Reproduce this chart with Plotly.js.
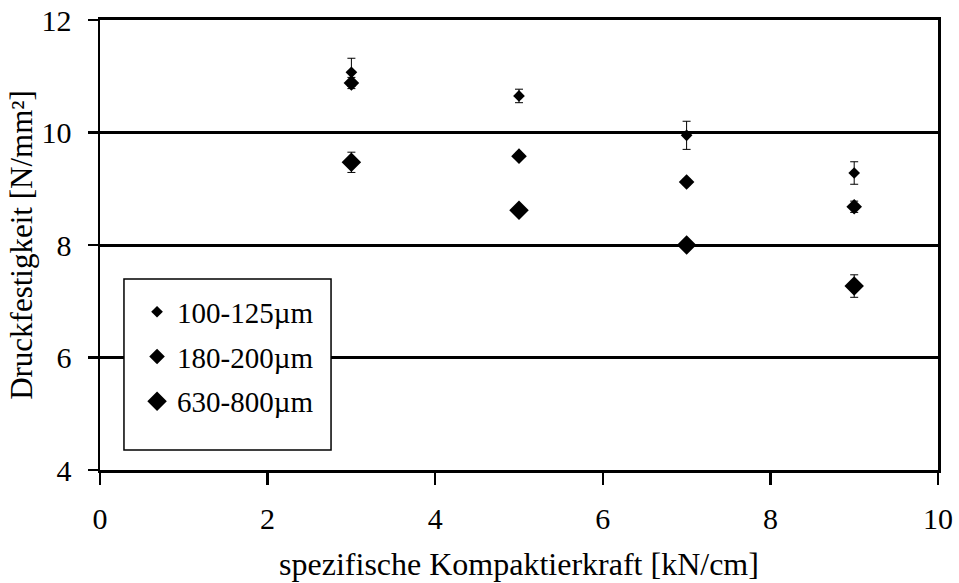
<!DOCTYPE html>
<html>
<head>
<meta charset="utf-8">
<script src="https://cdn.plot.ly/plotly-3.0.1.min.js"></script>
<style>html,body{margin:0;padding:0;background:#fff;}#chart{width:959px;height:583px;}</style>
</head>
<body>
<div id="chart"></div>
<script>
const force = [3, 5, 7, 9];
const names = ['100-125µm', '180-200µm', '630-800µm'];
const s1 = [11.07, 10.65, 9.95, 9.28];
const s1err = [0.25, 0.12, 0.25, 0.2];
const s2 = [10.88, 9.58, 9.12, 8.68];
const s2err = [0.1, 0.05, 0.05, 0.1];
const s3 = [9.47, 8.62, 8.0, 7.27];
const s3err = [0.18, 0.05, 0.05, 0.2];
const yTicks = [4, 6, 8, 10, 12];
const xTicks = [0, 2, 4, 6, 8, 10];

const vals = [s1, s2, s3];
const errs = [s1err, s2err, s3err];
const sizes = [9, 12, 15];

const font = '"Liberation Serif", "Times New Roman", serif';
const traces = vals.map((v, i) => ({
  x: force, y: v, name: names[i], type: 'scatter', mode: 'markers',
  legendgroup: 'g' + i,
  marker: {symbol: 'diamond', size: sizes[i], color: '#000'},
  error_y: {type: 'data', array: errs[i], visible: true, color: '#000', thickness: 1, width: 4}
}));

const layout = {
  width: 959, height: 583,
  margin: {l: 100, r: 21, t: 20, b: 113},
  paper_bgcolor: '#fff', plot_bgcolor: '#fff',
  font: {family: font, color: '#000', size: 29},
  showlegend: true,
  legend: {
    x: 0.0442, y: 0.408, xanchor: 'left', yanchor: 'top',
    borderwidth: 0, bgcolor: 'rgba(0,0,0,0)',
    font: {family: font, size: 29, color: '#000'},
    traceorder: 'grouped', tracegroupgap: 4,
    itemsizing: 'trace'
  },
  shapes: [{
    type: 'rect', xref: 'paper', yref: 'paper',
    x0: 0.0286, x1: 0.2757, y0: 0.0444, y1: 0.4244,
    line: {color: '#000', width: 1.5}, fillcolor: '#fff', layer: 'above'
  }],
  xaxis: {
    range: [0, 10], tickvals: xTicks, ticktext: xTicks.map(String),
    ticks: 'outside', ticklen: 12, tickwidth: 2.5, tickcolor: '#000',
    showline: true, linecolor: '#000', linewidth: 3, mirror: true,
    showgrid: false, zeroline: false, ticklabelstandoff: 8,
    tickfont: {family: font, size: 30},
    title: {text: 'spezifische Kompaktierkraft [kN/cm]', font: {family: font, size: 32}, standoff: 19}
  },
  yaxis: {
    range: [4, 12], tickvals: yTicks, ticktext: yTicks.map(t => t + '\u2004\u200B'),
    ticks: 'outside', ticklen: 10, tickwidth: 2.5, tickcolor: '#000',
    showline: true, linecolor: '#000', linewidth: 2.5, mirror: true,
    showgrid: true, gridcolor: '#000', gridwidth: 3, zeroline: false,
    tickfont: {family: font, size: 30},
    title: {text: 'Druckfestigkeit [N/mm²]', font: {family: font, size: 31}, standoff: 0}
  }
};

Plotly.newPlot('chart', traces, layout, {displayModeBar: false, staticPlot: true});
</script>
</body>
</html>
